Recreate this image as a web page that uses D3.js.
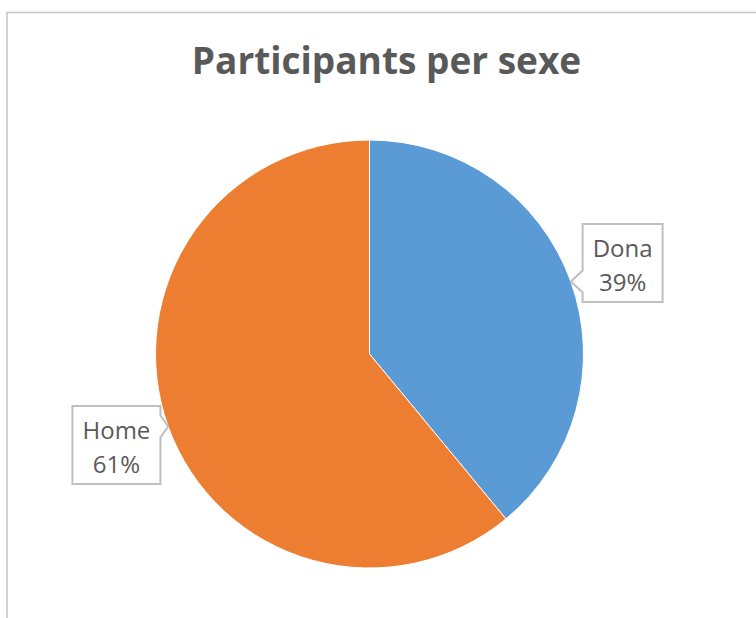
<!DOCTYPE html>
<html>
<head>
<meta charset="utf-8">
<script src="https://cdn.jsdelivr.net/npm/d3@7"></script>
<style>
  body { margin: 0; background: #fff; }
  svg { display: block; }
</style>
</head>
<body>
<svg id="chart"></svg>
<script>
// data
var categories = ['Dona', 'Home'];
var values = [39, 61];
var colors = ['#5B9BD5', '#ED7D31'];
var title = 'Participants per sexe';

var width = 756,
    height = 618,
    cx = 369.5,
    cy = 354,
    radius = 214,
    labelRadius = 269,
    boxH = 78,
    padX = 10;

var svg = d3.select('#chart')
    .attr('width', width)
    .attr('height', height);

// chart frame (right and bottom edges fall outside the picture)
svg.append('rect')
    .attr('x', 7)
    .attr('y', 12.5)
    .attr('width', 800)
    .attr('height', 700)
    .attr('fill', '#fff')
    .attr('stroke', '#c3c3c3')
    .attr('stroke-width', 1.5);

svg.append('text')
    .attr('x', 386.5)
    .attr('y', 74)
    .attr('text-anchor', 'middle')
    .style('font-family', '"Open Sans", sans-serif')
    .style('font-weight', 700)
    .style('font-size', '37px')
    .style('fill', '#595959')
    .text(title);

var data = categories.map(function (c, i) {
    return { name: c, value: values[i], color: colors[i] };
});

var pie = d3.pie()
    .sort(null)
    .value(function (d) { return d.value; });

var arcs = pie(data);
var total = d3.sum(values);

var arc = d3.arc()
    .innerRadius(0)
    .outerRadius(radius);

var chart = svg.append('g')
    .attr('transform', 'translate(' + cx + ',' + cy + ')');

chart.selectAll('.slice')
    .data(arcs)
    .enter().append('path')
    .attr('class', 'slice')
    .attr('d', arc)
    .attr('fill', function (d) { return d.data.color; })
    .attr('stroke', '#fff')
    .attr('stroke-width', 1);

// callout labels
function calloutPath(bx, by, bw, tx, ty, left) {
    // box corner at (bx,by), pointer tip at (tx,ty), pointer on left or right edge
    var half = 11,
        py = Math.max(by + half + 2, Math.min(by + boxH - half - 2, ty));
    if (left) {
        return 'M' + bx + ',' + by +
            'H' + (bx + bw) +
            'V' + (by + boxH) +
            'H' + bx +
            'V' + (py + half) +
            'L' + tx + ',' + ty +
            'L' + bx + ',' + (py - half) +
            'Z';
    }
    return 'M' + bx + ',' + by +
        'H' + (bx + bw) +
        'V' + (py - half) +
        'L' + tx + ',' + ty +
        'L' + (bx + bw) + ',' + (py + half) +
        'V' + (by + boxH) +
        'H' + bx +
        'Z';
}

var labels = chart.selectAll('.label')
    .data(arcs)
    .enter().append('g')
    .attr('class', 'label');

labels.each(function (d) {
    var g = d3.select(this),
        mid = (d.startAngle + d.endAngle) / 2,
        sx = Math.sin(mid),
        sy = -Math.cos(mid),
        tx = sx * radius,
        ty = sy * radius,
        lx = sx * labelRadius,
        ly = sy * labelRadius,
        by = ly - boxH / 2,
        left = sx > 0;

    var box = g.append('path')
        .attr('fill', '#fff')
        .attr('stroke', '#bfbfbf')
        .attr('stroke-width', 2);

    var t = g.append('text')
        .attr('text-anchor', 'middle')
        .style('font-family', '"Open Sans", sans-serif')
        .style('font-size', '24px')
        .style('fill', '#595959');

    t.append('tspan')
        .attr('x', lx)
        .attr('y', by + 33)
        .text(d.data.name);

    t.append('tspan')
        .attr('x', lx)
        .attr('y', by + 67)
        .text(d3.format('.0%')(d.data.value / total));

    var bw = Math.round(t.node().getBBox().width) + 2 * padX,
        bx = lx - bw / 2;

    box.attr('d', calloutPath(bx, by, bw, tx, ty, left));
});
</script>
</body>
</html>
